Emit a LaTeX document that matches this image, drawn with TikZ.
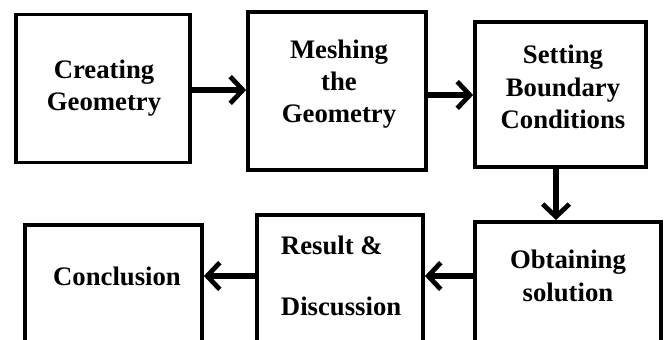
\documentclass[tikz,border=0pt]{standalone}
\usepackage{fontspec}
\setmainfont{Liberation Serif}
\usetikzlibrary{arrows.meta}

\tikzset{
  box/.style={draw, line width=2.6pt, inner sep=0pt},
  lbl/.style={font=\bfseries\fontsize{19}{23}\selectfont, align=center},
  flow/.style={line width=3.6pt, -{Straight Barb[length=9pt, width=19pt, line width=3.4pt]}}
}

\begin{document}
\begin{tikzpicture}[x=0.025cm, y=-0.025cm]
\useasboundingbox (0,0) rectangle (666,340);
\clip (0,0) rectangle (666,340);

% top row
\node[box, minimum width=4.35cm, minimum height=3.7cm] (geo) at (103,88.5) {};
\node[box, minimum width=4.45cm, minimum height=3.95cm] (mesh) at (337,91) {};
\node[box, minimum width=4.275cm, minimum height=3.625cm] (bc) at (560.5,94.5) {};
\node[lbl] (tgeo) at (104,88) {Creating\\Geometry};
\node[lbl] (tmesh) at (339,84) {Meshing\\the\\Geometry};
\node[lbl] (tbc) at (563,87) {Setting\\Boundary\\Conditions};

% bottom row, boxes run off the page
\node[box, anchor=north, minimum width=4.65cm, minimum height=4cm] (sol) at (568,220) {};
\node[box, anchor=north, minimum width=4.15cm, minimum height=4cm] (res) at (340,213) {};
\node[box, anchor=north, minimum width=4.425cm, minimum height=4cm] (con) at (113.5,223) {};
\node[lbl] (tsol) at (568,276) {Obtaining\\solution};
\node[lbl, align=left, anchor=west] (tres) at (276,276) {Result \&\\[0.7cm]Discussion};
\node[lbl] (tcon) at (117,276) {Conclusion};

\draw[flow] (geo.east |- 0,90) -- (mesh.west |- 0,90);
\draw[flow] (mesh.east |- 0,95) -- (bc.west |- 0,95);
\draw[flow] (bc.south -| 556,0) -- (sol.north -| 556,0);
\draw[flow] (sol.west |- tsol) -- (res.east |- tsol);
\draw[flow] (res.west |- tsol) -- (con.east |- tsol);
\end{tikzpicture}
\end{document}
